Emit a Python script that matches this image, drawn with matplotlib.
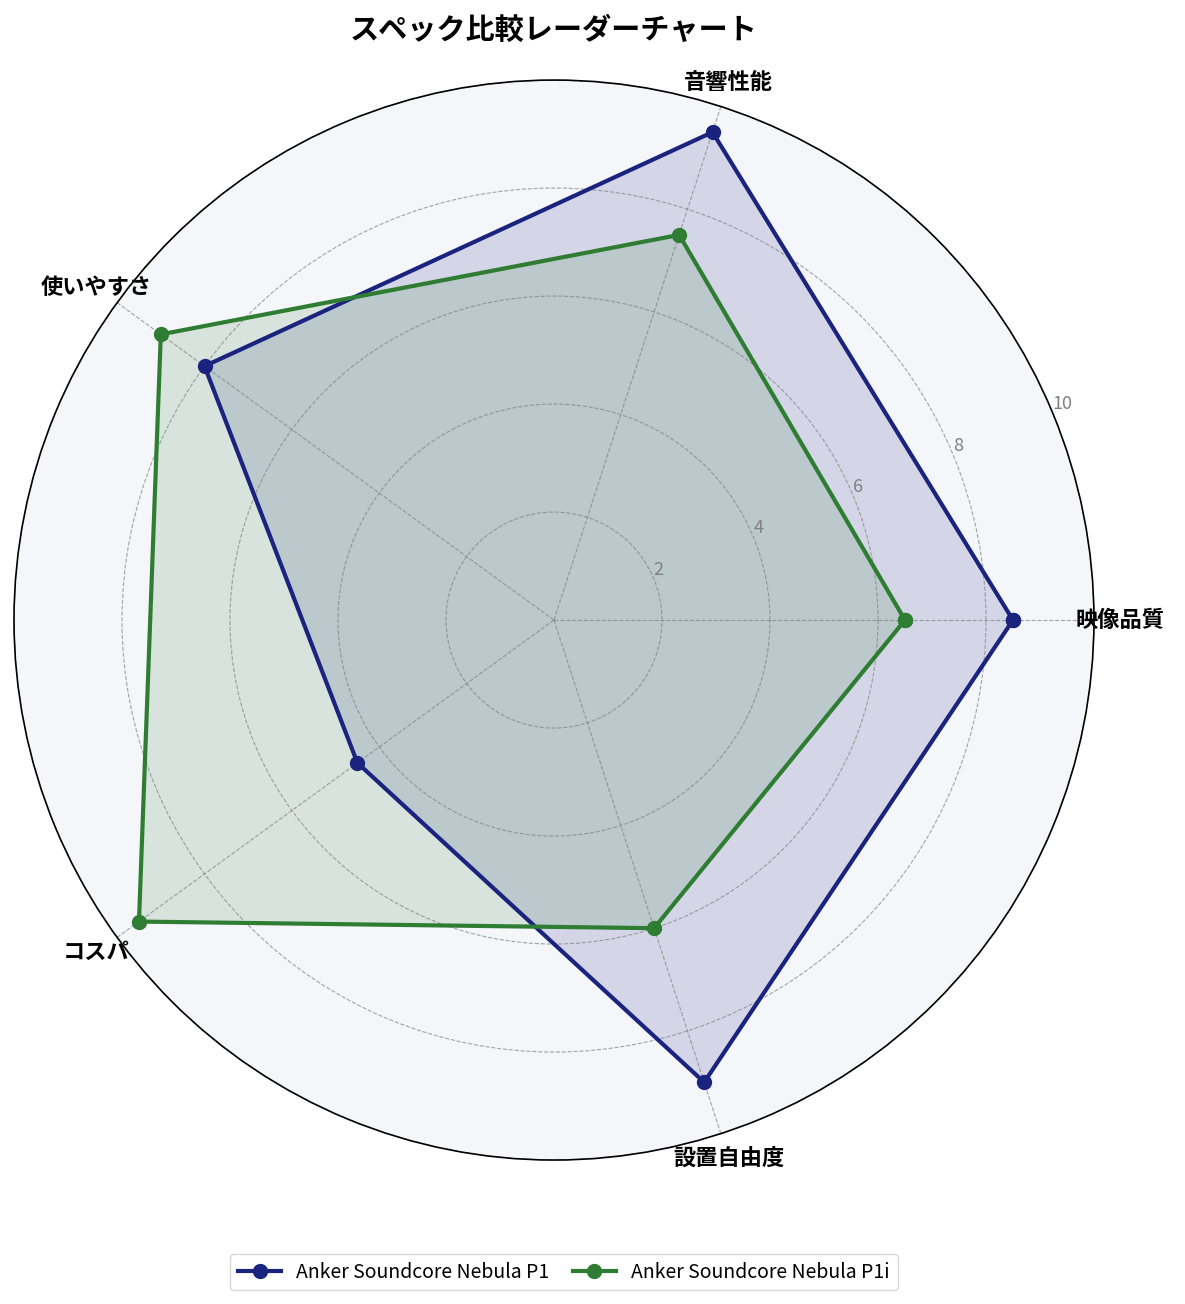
import numpy as np
import matplotlib.pyplot as plt

plt.rcParams['font.family'] = ['Noto Sans CJK JP', 'DejaVu Sans']

categories = ['映像品質', '音響性能', '使いやすさ', 'コスパ', '設置自由度']
p1_values = [8.5, 9.5, 8.0, 4.5, 9.0]
p1i_values = [6.5, 7.5, 9.0, 9.5, 6.0]
series_names = ['Anker Soundcore Nebula P1', 'Anker Soundcore Nebula P1i']
colors = ['#1a237e', '#2e7d32']
r_ticks = [2, 4, 6, 8, 10]

angles = np.linspace(0, 2 * np.pi, len(categories), endpoint=False).tolist()
angles_closed = angles + angles[:1]

fig = plt.figure(figsize=(11.85, 13.04), dpi=100)
ax = fig.add_axes([0.0118, 0.1104, 0.9114, 0.8282], projection='polar')
ax.set_facecolor('#f5f6fa')

for vals, name, c in zip([p1_values, p1i_values], series_names, colors):
    v = vals + vals[:1]
    ax.plot(angles_closed, v, color=c, linewidth=3, marker='o', markersize=10, label=name)
    ax.fill(angles_closed, v, color=c, alpha=0.15)

ax.set_ylim(0, 10)
ax.set_yticks(r_ticks)
ax.set_yticklabels([str(t) for t in r_ticks], fontsize=13, color='gray')
ax.set_rlabel_position(22.5)
ax.set_xticks(angles)
ax.set_xticklabels(categories, fontsize=16, fontweight='bold')
ax.tick_params(axis='x', pad=8)
ax.grid(True, color='gray', linestyle='--', linewidth=0.8, alpha=0.7)
ax.spines['polar'].set_color('black')
ax.spines['polar'].set_linewidth(1.2)

fig.suptitle('スペック比較レーダーチャート', fontsize=21, fontweight='bold',
             x=0.4675, y=0.977, va='center')
fig.legend(loc='center', bbox_to_anchor=(0.476, 0.0245), ncol=2, fontsize=14,
           handlelength=2.2, columnspacing=1.2)

fig.savefig('out.png', dpi=100)
